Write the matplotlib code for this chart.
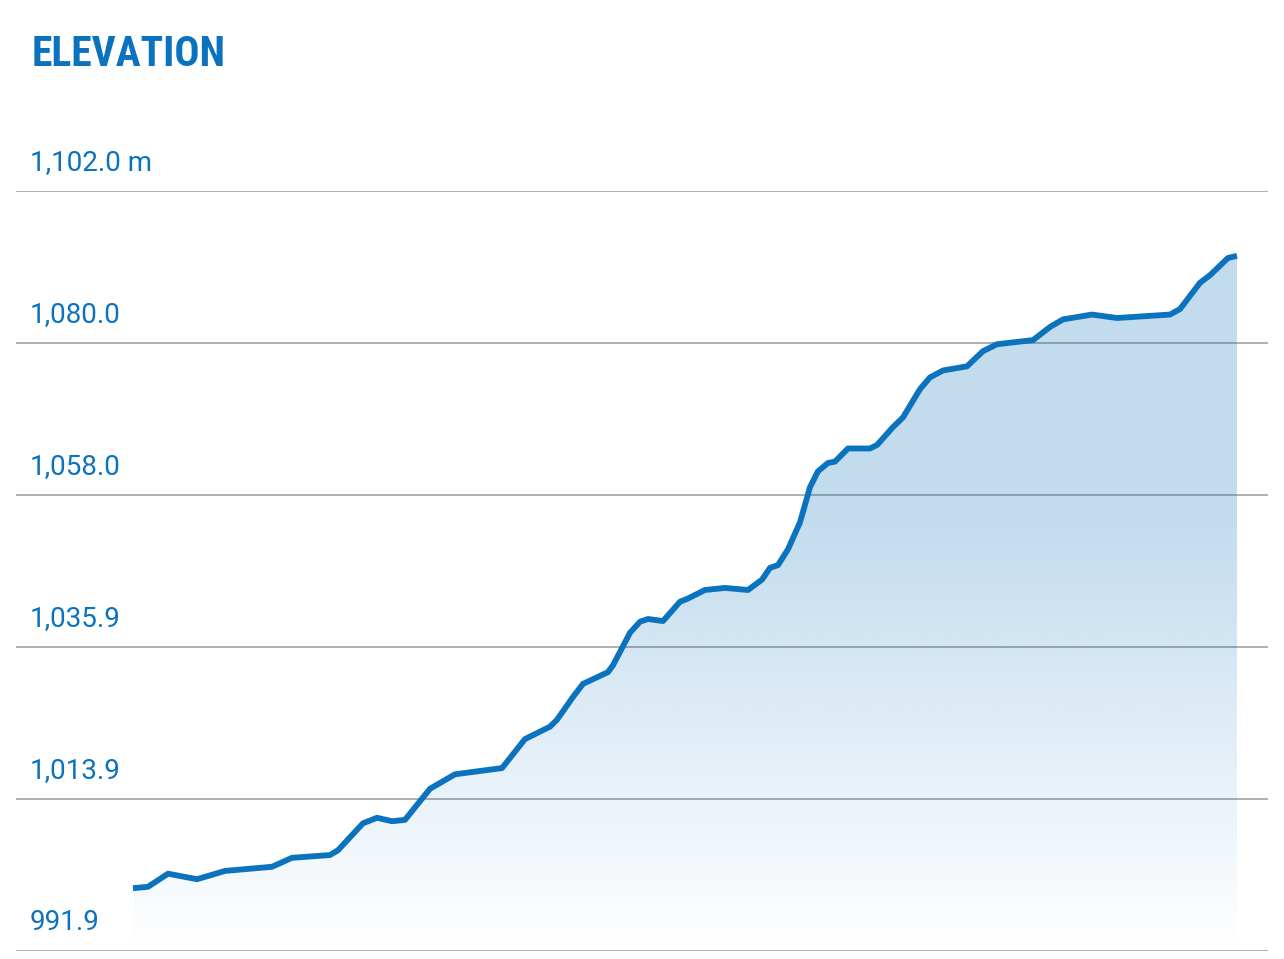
import numpy as np
import matplotlib
matplotlib.use("Agg")
import matplotlib.pyplot as plt
from matplotlib import font_manager
from matplotlib.colors import to_rgb

# ---- data ----
distance_km = [0.00, 0.15, 0.35, 0.64, 0.92, 1.39, 1.59, 1.97, 2.05, 2.30, 2.44, 2.59, 2.72,
               2.97, 3.22, 3.69, 3.92, 4.17, 4.24, 4.40, 4.50, 4.75, 4.80, 4.97, 5.07, 5.15,
               5.30, 5.47, 5.54, 5.72, 5.92, 6.15, 6.29, 6.37, 6.45, 6.55, 6.67, 6.77, 6.85,
               6.95, 7.02, 7.15, 7.37, 7.44, 7.60, 7.70, 7.87, 7.97, 8.10, 8.34, 8.50, 8.64,
               9.00, 9.17, 9.30, 9.59, 9.84, 10.37, 10.47, 10.67, 10.77, 10.95, 11.04]
elevation_m = [1001.0, 1001.2, 1003.1, 1002.3, 1003.5, 1004.1, 1005.4, 1005.8, 1006.5, 1010.4,
               1011.2, 1010.7, 1010.9, 1015.4, 1017.5, 1018.4, 1022.6, 1024.4, 1025.4, 1028.7,
               1030.6, 1032.3, 1033.3, 1038.0, 1039.6, 1040.0, 1039.7, 1042.5, 1042.9, 1044.2,
               1044.5, 1044.2, 1045.7, 1047.4, 1047.8, 1050.1, 1054.0, 1059.1, 1061.4, 1062.6,
               1062.8, 1064.7, 1064.7, 1065.2, 1067.8, 1069.2, 1073.3, 1075.0, 1076.0, 1076.6,
               1078.8, 1079.8, 1080.4, 1082.3, 1083.4, 1084.1, 1083.6, 1084.1, 1084.9, 1088.7,
               1089.8, 1092.3, 1092.6]
tick_values = [991.9, 1013.9, 1035.9, 1058.0, 1080.0, 1102.0]
tick_labels = ["991.9", "1,013.9", "1,035.9", "1,058.0", "1,080.0", "1,102.0 m"]
title = "ELEVATION"

# ---- fonts ----
available = {f.name for f in font_manager.fontManager.ttflist}
def pick(names):
    for n in names:
        if n in available:
            return n
    return "DejaVu Sans"
title_font = pick(["Roboto Condensed", "Liberation Sans Narrow", "Roboto", "DejaVu Sans"])
label_font = pick(["Roboto", "Liberation Sans", "DejaVu Sans"])

blue = "#0b72be"
grid_color = "#a8a8a8"

W, H = 1284, 959
fig = plt.figure(figsize=(W / 100, H / 100), dpi=100)
fig.patch.set_facecolor("white")

ax_left_px, ax_right_px = 16, 1268
ax_top_px, ax_bot_px = 191, 951
ax = fig.add_axes([ax_left_px / W, (H - ax_bot_px) / H,
                   (ax_right_px - ax_left_px) / W, (ax_bot_px - ax_top_px) / H])
ax.set_facecolor("white")
ax.set_ylim(tick_values[0], tick_values[-1])
ax.set_xlim(-1.17, 11.35)
for s in ax.spines.values():
    s.set_visible(False)
ax.set_xticks([])
ax.set_yticks([])

for v in tick_values:
    ax.axhline(v, color=grid_color, lw=1.3, zorder=1)

x = np.array(distance_km)
y = np.array(elevation_m)

# gradient fill clipped to area under the line
poly = ax.fill_between(x, y, tick_values[0], color="none", lw=0)
ymin, ymax = tick_values[0], y.max()
n = 400
rows = np.linspace(ymax, ymin, n)  # top to bottom
# alpha profile: nearly constant at upper part, fading to zero near bottom
t = (rows - ymin) / (ymax - ymin)
alpha = np.clip(0.25 * (t / 0.62), 0, 0.25)
alpha = np.where(t > 0.62, 0.25, alpha)
r, g, b = to_rgb(blue)
img = np.zeros((n, 1, 4))
img[:, 0, 0], img[:, 0, 1], img[:, 0, 2] = r, g, b
img[:, 0, 3] = alpha
im = ax.imshow(img, extent=[x.min(), x.max(), ymin, ymax], aspect="auto",
               origin="upper", zorder=2, interpolation="bilinear")
paths = poly.get_paths()
im.set_clip_path(paths[0], transform=ax.transData)
ax.set_xlim(-1.17, 11.35)
ax.set_ylim(tick_values[0], tick_values[-1])

ax.plot(x, y, color=blue, lw=4.2, solid_joinstyle="round", solid_capstyle="butt", zorder=3)

# y labels above gridlines
for v, lab in zip(tick_values, tick_labels):
    ax.annotate(lab, xy=(0, v), xycoords=("axes fraction", "data"),
                xytext=(14 * 0.72, 21 * 0.72), textcoords="offset points",
                ha="left", va="baseline", fontsize=20, color=blue,
                family=label_font)

fig.text(32 / W, 1 - 66 / H, title, fontsize=30, fontweight="bold",
         color=blue, family=title_font, ha="left", va="baseline")

fig.savefig("out.png", dpi=100, facecolor="white")
